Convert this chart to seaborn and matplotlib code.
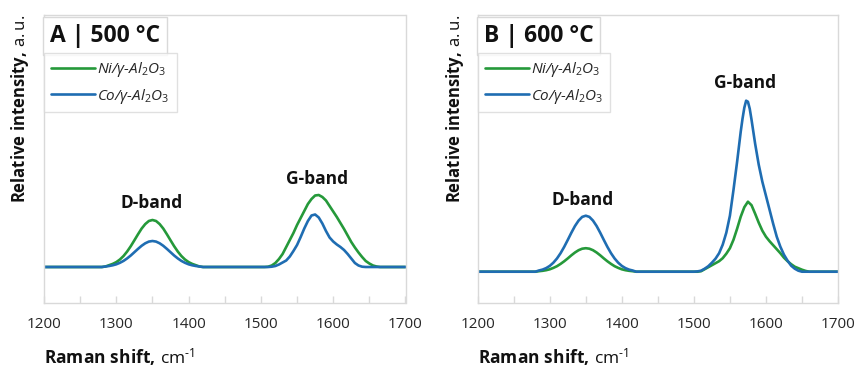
import numpy as np
import pandas as pd
import matplotlib
matplotlib.use("Agg")
import matplotlib.pyplot as plt
import seaborn as sns

# ---------------- data ----------------
shift_d = [1280, 1285, 1290, 1295, 1300, 1305, 1310, 1315, 1320, 1325, 1330, 1335, 1340, 1345,
           1350, 1355, 1360, 1365, 1370, 1375, 1380, 1385, 1390, 1395, 1400, 1405, 1410, 1415, 1420]
shift_g = [1495, 1500, 1505, 1510, 1515, 1520, 1525, 1530, 1535, 1540, 1545, 1550, 1555, 1560,
           1565, 1570, 1575, 1580, 1585, 1590, 1595, 1600, 1605, 1610, 1615, 1620, 1625, 1630,
           1635, 1640, 1645, 1650, 1655, 1660, 1665, 1670]
shift_g_fine = [1495, 1500, 1505, 1510, 1515, 1520, 1525, 1530, 1535, 1540, 1545, 1550, 1555,
                1560, 1562.5, 1565, 1567.5, 1570, 1572.5, 1575, 1577.5, 1580, 1582.5, 1585,
                1590, 1595, 1600, 1605, 1610, 1615, 1620, 1625, 1630, 1635, 1640, 1645, 1650,
                1655, 1660, 1665, 1670]
shift_ends = [1200, 1700]

# Panel A (500 C)
ni500_d = [0, 0.5, 1.8, 3.1, 4.9, 7.5, 11.0, 15.5, 20.8, 26.7, 32.7, 38.4, 42.9, 46.0,
           47, 46.0, 42.9, 38.4, 32.7, 26.7, 20.8, 15.5, 11.0, 7.5, 4.9, 3.1, 1.8, 0.5, 0]
co500_d = [0, 0.5, 1.0, 1.7, 2.7, 4.2, 6.1, 8.6, 11.5, 14.8, 18.1, 21.2, 23.7, 25.4,
           26, 25.4, 23.7, 21.2, 18.1, 14.8, 11.5, 8.6, 6.1, 4.2, 2.7, 1.7, 1.0, 0.5, 0]
ni500_g = [0, 0, 0, 0.3, 1.5, 4, 8, 13, 20, 27, 34, 42, 49, 56, 63, 68, 71.5, 72, 70, 66.5,
           61, 55.5, 50, 44, 38, 31.5, 25, 19.5, 14.5, 10, 6, 3.5, 1.5, 0.5, 0, 0]
co500_g = [0, 0, 0, 0, 0.3, 1, 2.5, 4.5, 6.5, 10.5, 16, 22, 30, 38.5, 46, 51.5, 52.5, 49.5, 43.5,
           36, 29.5, 25.5, 22.5, 20, 17, 13, 8.5, 4, 1.5, 0.3, 0, 0, 0, 0, 0, 0]

# Panel B (600 C)
ni600_d = [0, 0.5, 0.9, 1.5, 2.4, 3.8, 5.5, 7.8, 10.4, 13.3, 16.4, 19.2, 21.5, 23.0,
           23.5, 23.0, 21.5, 19.2, 16.4, 13.3, 10.4, 7.8, 5.5, 3.8, 2.4, 1.5, 0.9, 0.5, 0]
co600_d = [0, 1.2, 2.1, 3.6, 5.8, 9.0, 13.2, 18.5, 24.8, 31.8, 39.0, 45.7, 51.1, 54.8,
           56, 54.8, 51.1, 45.7, 39.0, 31.8, 24.8, 18.5, 13.2, 9.0, 5.8, 3.6, 2.1, 1.2, 0]
ni600_g = [0, 0, 0, 0.5, 2.5, 4.5, 6.5, 8.5, 10.5, 13.5, 18, 23.5, 32, 43, 55, 64.5, 70, 66.5, 58, 49,
           41, 35, 30.5, 26.5, 22.5, 18.5, 14, 10.5, 7.5, 5, 3.5, 2, 0.8, 0, 0, 0]
co600_g = [0, 0, 0.3, 1, 3, 5.5, 9, 13, 18.5, 27, 39, 56, 82, 110, 125, 140, 153, 164, 171, 170,
           163, 152, 140, 128, 107, 90, 76, 62, 48, 35, 25, 17, 11, 6, 3, 1, 0, 0, 0, 0, 0]

series_names = ["Ni/γ-Al$_2$O$_3$", "Co/γ-Al$_2$O$_3$"]
panel_titles = ["A | 500 °C", "B | 600 °C"]
xticks = [1200, 1300, 1400, 1500, 1600, 1700]

GREEN = "#25993a"
BLUE = "#1f6db2"
GRID = "#d9d9d9"

# ---------------- style ----------------
sns.set_theme(style="white")
plt.rcParams["font.family"] = ["Open Sans", "DejaVu Sans"]
plt.rcParams["mathtext.fontset"] = "custom"
plt.rcParams["mathtext.rm"] = "Open Sans"
plt.rcParams["mathtext.it"] = "Open Sans:italic"
plt.rcParams["mathtext.bf"] = "Open Sans:bold"
plt.rcParams["mathtext.default"] = "it"


def make_df(ni_d, ni_g, co_d, co_g, co_gx):
    frames = []
    for name, d, g, gx in [(series_names[0], ni_d, ni_g, shift_g),
                           (series_names[1], co_d, co_g, co_gx)]:
        x = [shift_ends[0]] + shift_d + list(gx) + [shift_ends[1]]
        y = [0] + list(d) + list(g) + [0]
        frames.append(pd.DataFrame({"shift": x, "intensity": y, "sample": name}))
    return pd.concat(frames, ignore_index=True)


df_a = make_df(ni500_d, ni500_g, co500_d, co500_g, shift_g)
df_b = make_df(ni600_d, ni600_g, co600_d, co600_g, shift_g_fine)

fig = plt.figure(figsize=(8.55, 3.67), dpi=100)
ax_a = fig.add_axes([44 / 855, 64 / 367, 361.5 / 855, 288 / 367])
ax_b = fig.add_axes([477.7 / 855, 64 / 367, 360.3 / 855, 288 / 367])

configs = [
    (ax_a, df_a, (-36, 252), [(1349, 64, "D-band"), (1578, 88, "G-band")], -0.066),
    (ax_b, df_b, (-31.3, 256.7), [(1346, 71.7, "D-band"), (1570.5, 188.4, "G-band")], -0.063),
]

for i, (ax, df, ylim, bands, ylab_x) in enumerate(configs):
    sns.lineplot(data=df, x="shift", y="intensity", hue="sample",
                 palette=[GREEN, BLUE], estimator=None, sort=False,
                 linewidth=1.9, ax=ax, legend=False)
    ax.set_xlim(1200, 1700)
    ax.set_ylim(*ylim)
    ax.set_xticks(xticks)
    ax.set_xticks([1250, 1350, 1450, 1550, 1650], minor=True)
    ax.set_yticks([])
    ax.tick_params(axis="x", which="both", direction="in", length=5, width=1,
                   color=GRID, labelsize=11, labelcolor="#262626", pad=10, bottom=True)
    for sp in ax.spines.values():
        sp.set_color(GRID)
        sp.set_linewidth(1)
    ax.set_xlabel("")
    ax.set_ylabel("")

    # axis labels
    ax.text(0.0, -0.208, r"$\mathbf{Raman\ shift,}\,\mathrm{cm}^{\text{-}\mathrm{1}}$",
            transform=ax.transAxes, ha="left", va="baseline", fontsize=12.5, color="#111111")
    ax.text(ylab_x, 1.0, r"$\mathbf{Relative\ intensity,}\,\mathrm{a.u.}$",
            transform=ax.transAxes, ha="center", va="top", rotation=90,
            fontsize=12, color="#111111")

    # band labels
    for bx, by, lab in bands:
        ax.text(bx, by, lab, ha="center", va="center", fontsize=12.5,
                fontweight="bold", color="#111111")

    # panel title box
    ax.text(0.017, 0.968, panel_titles[i], transform=ax.transAxes, ha="left", va="top",
            fontsize=16.5, fontweight="bold", color="#111111",
            bbox=dict(boxstyle="square,pad=0.3", fc="white", ec=GRID, lw=1))

    # legend
    handles = ax.lines[:2]
    leg = ax.legend(handles, series_names, loc="upper left",
                    bbox_to_anchor=(0.0, 1 - 38 / 288), borderaxespad=0,
                    frameon=True, fancybox=False, edgecolor=GRID,
                    handlelength=2.9, handletextpad=0.15, borderpad=0.45,
                    labelspacing=0.5, prop={"size": 11, "style": "italic"})
    leg.get_frame().set_linewidth(1)
    for t in leg.get_texts():
        t.set_color("#262626")

fig.savefig("out.png", dpi=100, facecolor="white")
